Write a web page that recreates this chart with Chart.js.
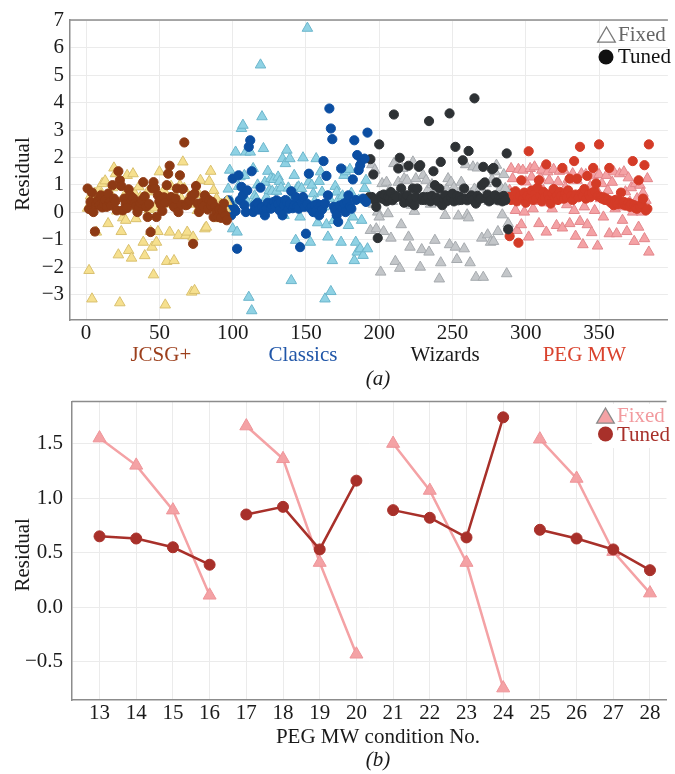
<!DOCTYPE html>
<html>
<head>
<meta charset="utf-8">
<script src="https://cdn.jsdelivr.net/npm/chart.js@4.4.0/dist/chart.umd.min.js"></script>
<style>
    body { margin: 0; background: #fff; }
    .panel { position: absolute; left: 0; }
    #panelA { top: 0; }
    #panelB { top: 380px; }
</style>
</head>
<body>
<canvas id="panelA" class="panel" width="675" height="392"></canvas>
<canvas id="panelB" class="panel" width="675" height="394"></canvas>
<script>
(function() {
    'use strict';

    // ---- panel (a): residual per condition, four screens ----
    const screens = ['JCSG+', 'Classics', 'Wizards', 'PEG MW'];
    const screenFirst = [1, 97, 193, 289];          // first condition index of each screen
    const screenLabelAt = [51, 148, 245, 340];      // where the screen name sits on the x axis

    const jcsgTuned = [
        0.87, 0.12, 0.38, 0.72, 0.01, -0.70, 0.30, 0.44, 0.26, 0.62, 0.18, 0.32,
        0.45, 0.20, 0.68, 0.38, 0.25, 0.99, 0.50, 0.40, 0.07, 1.50, 1.17, 0.96,
        0.07, 0.50, 0.30, 0.16, 0.84, 0.62, 0.44, 0.52, 0.32, 0.22, 0.01, 0.16,
        0.35, 0.45, 1.10, 0.58, 0.20, -0.17, 0.30, -0.72, 0.88, 1.10, 0.87, -0.17,
        0.62, 0.40, 0.28, 0.05, 0.55, 0.35, 0.99, 1.41, 1.70, 0.56, 0.32, 0.20,
        0.50, 0.87, 0.01, 1.35, 0.28, 0.85, 2.55, 0.26, 0.28, 0.40, 0.44, 0.60,
        -1.15, 0.68, 0.96, 0.32, 0.01, 0.13, 0.35, 0.22, 0.62, 0.52, 0.10, 0.44,
        0.26, 0.38, -0.17, 0.20, 0.05, -0.17, 0.10, -0.20, 0.07, 0.32, -0.12, -0.29
    ];
    const jcsgFixed = [
        0.15, -2.12, 0.60, -3.16, 0.50, 0.70, -0.72, 0.30, 0.84, 0.65, 1.05, 0.25,
        1.15, 0.55, -0.41, 0.74, 0.40, 0.90, 1.62, 1.41, 0.05, -1.55, -3.30, -0.70,
        -0.20, 0.60, -0.29, 1.35, -1.39, 0.45, -1.67, 1.41, 0.70, -0.23, 0.20, 0.93,
        0.55, 0.20, -1.09, -1.58, 0.30, 0.75, 0.10, -0.70, -1.27, -2.28, 0.16, -1.09,
        -0.70, 1.48, 0.55, 0.35, 0.80, -3.38, -1.79, 0.45, -0.72, 0.95, 0.30, -1.76,
        0.60, 0.25, -0.84, 0.99, 0.50, 1.84, 0.87, -0.84, -0.72, 0.55, 0.44, -2.91,
        -0.90, -2.85, 0.30, 0.07, 0.65, 1.17, 0.20, 0.45, -0.60, -0.54, 0.35, 1.13,
        1.50, 0.13, 0.80, 0.26, 0.50, -0.23, -0.11, 0.30, 0.15, 0.01, 0.13, 0.40
    ];
    const classicsTuned = [
        0.44, 0.30, -0.11, 1.23, 0.13, 0.05, -1.33, 1.35, 0.45, 0.93, 0.62, 0.26,
        0.01, 0.80, 2.39, 2.63, 1.50, 0.01, 0.25, 0.15, 0.35, 0.10, 0.90, 0.20,
        0.04, -0.11, 0.15, 0.35, 0.32, 0.13, 0.25, 0.38, 0.20, 0.44, 0.30, 0.07,
        0.38, -0.11, 0.26, 0.45, 0.38, 0.13, 0.30, 0.77, 0.15, 0.26, 0.56, 0.20,
        0.13, -1.27, 0.38, 0.56, 0.20, -0.78, 0.30, 1.41, 0.15, 0.20, 0.01, 0.26,
        0.07, 0.30, -0.11, 0.26, 0.10, 1.87, 0.32, 1.33, 0.62, 3.79, 3.06, 2.67,
        0.20, 0.07, -0.11, -0.35, 0.25, 1.60, 0.13, 0.32, 0.01, 0.38, 0.62, 0.20,
        0.13, 1.20, 2.63, 0.45, 2.09, 1.54, 1.72, 1.90, 0.50, 1.96, 0.38, 2.91
    ];
    const classicsFixed = [
        0.85, 1.54, 0.40, -0.60, 0.20, 2.20, -0.72, 0.95, 1.30, 3.06, 3.18, 1.35,
        2.20, 0.38, -3.10, 2.20, -3.59, 1.60, 0.60, 0.50, 1.00, 0.30, 5.38, 3.49,
        2.33, 1.10, 0.55, 1.50, 0.80, 1.23, 0.77, 1.20, 0.40, 0.77, 1.29, 1.13,
        0.89, 1.96, -0.11, 1.78, 2.27, 0.89, 1.96, -2.49, 0.60, 1.35, -1.02, 0.89,
        0.93, -0.17, 0.87, 1.99, 0.50, 0.30, 6.72, 1.11, -1.09, 0.99, 0.68, 0.40,
        1.96, -0.38, 1.13, 1.48, 0.74, 0.20, -3.16, -0.45, -0.90, 0.50, -2.89, -1.76,
        -0.30, 0.95, 0.74, 0.45, 0.15, -1.09, 0.60, 1.35, 1.48, 0.35, -0.48, 1.57,
        0.70, -0.17, -1.76, -1.09, -1.45, 0.45, -1.33, -0.29, -1.57, 0.87, 1.17, -1.33
    ];
    const wizardsTuned = [
        0.55, 1.94, 0.56, 1.38, 0.45, 0.20, -0.94, 2.48, 0.60, 0.50, 0.65, 0.62,
        0.40, 0.56, 0.50, 0.74, 0.44, 3.57, 0.60, 0.56, 1.60, 1.99, 0.87, 0.56,
        0.35, 0.50, 0.62, 1.70, 0.38, 0.50, 0.87, 0.26, 0.56, 0.87, 1.66, 1.72,
        0.45, 0.56, 0.45, 0.50, 0.56, 3.33, 0.40, 0.60, 1.50, 0.99, 0.53, 0.40,
        0.87, 1.84, 0.26, 0.50, 0.62, 0.40, 0.45, 3.61, 0.55, 0.68, 0.40, 2.39,
        0.60, 0.44, 0.56, 0.45, 1.90, 0.87, 0.50, 0.44, 2.24, 0.55, 0.62, 0.45,
        4.16, 0.32, 0.60, 0.50, 0.50, 0.99, 1.66, 1.09, 0.50, 0.65, 0.40, 0.45,
        1.57, 1.62, 0.62, 1.09, 0.44, 0.55, 0.50, 0.40, 0.60, 0.44, 2.15, -0.62
    ];
    const wizardsFixed = [
        0.60, -0.66, 1.74, 0.30, 1.54, -0.60, 0.01, -0.17, -2.18, 1.05, -0.70, 0.50,
        1.10, -0.05, 0.80, -0.94, 0.40, 1.78, -1.79, 0.60, 1.10, -2.04, -0.45, 1.60,
        1.23, 0.40, 1.17, -0.90, -1.27, 0.26, 1.84, 0.04, 1.23, 0.70, 0.45, -2.00,
        -1.36, 1.35, 0.50, 1.17, 0.80, -1.45, 0.30, 1.01, 0.60, -1.02, 0.90, 0.55,
        -2.43, -1.84, 0.70, 0.40, -0.11, 0.85, 1.23, -1.18, 1.10, 0.60, 0.90, -1.27,
        -1.72, -0.13, 0.75, 1.10, 0.50, -1.33, 1.74, -0.09, -0.20, -1.84, 0.70, 1.66,
        0.85, -2.37, 1.62, 0.50, 0.90, -0.94, -2.37, 0.65, 1.05, -0.82, 0.40, -1.09,
        1.20, -1.06, 1.48, 1.72, -0.70, 0.60, 0.90, -0.09, 1.38, 0.87, -2.24, -0.41
    ];
    const pegTuned = [
        -0.87, 0.45, 0.70, 0.55, 0.77, 0.40, -1.11, 0.60, 1.17, 0.50, 0.72, 0.35,
        0.60, 2.23, 0.55, 0.80, 0.45, 0.65, 0.50, 0.90, 1.17, 0.60, 0.40, 0.75,
        0.55, 1.75, 0.65, 0.50, 0.32, 0.70, 0.85, 0.55, 0.60, 0.45, 0.75, 0.60,
        1.62, 0.50, 0.70, 0.55, 0.80, 1.23, 0.60, 0.45, 1.87, 0.65, 1.23, 0.55,
        2.39, 0.70, 0.60, 0.85, 0.50, 1.33, 0.65, 0.55, 0.70, 1.62, 0.77, 1.05,
        0.60, 2.48, 0.56, 0.50, 0.55, 0.45, 0.50, 0.44, 1.62, 0.35, 0.40, 0.26,
        0.45, 0.32, 0.30, 0.40, 0.72, 0.30, 0.38, 0.25, 0.26, 0.35, 0.20, 0.30,
        1.87, 0.26, 0.15, 0.13, 1.17, 0.20, 0.30, 0.50, 1.72, 0.07, 0.13, 2.48
    ];
    const pegFixed = [
        0.80, 1.60, 1.23, 0.45, 0.07, -0.66, 1.57, 0.60, -0.45, 1.54, 0.01, 1.11,
        0.55, -0.90, 1.60, 1.29, 0.13, 1.66, 0.70, 0.40, -0.41, 1.26, 1.54, 0.80,
        0.35, -0.72, 1.48, 1.17, 0.55, 0.13, 1.57, 0.75, -0.48, 1.11, 1.50, 0.45,
        -0.57, 1.54, 0.90, 0.28, 1.21, -0.41, 0.60, 1.41, 0.07, -0.87, 1.17, 0.62,
        -0.33, 1.41, -1.18, 0.20, 1.38, -0.45, 0.70, 0.95, -0.74, 1.33, 0.07, 0.85,
        -1.23, 1.38, 0.50, 1.05, -0.17, 0.60, 1.35, 0.80, -0.78, 0.40, 1.10, 1.48,
        0.13, -0.78, 0.55, 1.41, 0.20, -0.29, 1.48, 0.75, -0.70, 1.26, 0.38, 0.90,
        0.01, -1.06, 1.05, 0.50, -0.54, 0.99, 0.01, 0.70, -0.96, 0.44, 1.23, -1.45
    ];

    const xTicksA = [0, 50, 100, 150, 200, 250, 300, 350];
    const yTicksA = [-3, -2, -1, 0, 1, 2, 3, 4, 5, 6, 7];

    // ---- panel (b): PEG MW conditions 13-28 ----
    const pegCondition = [13, 14, 15, 16, 17, 18, 19, 20, 21, 22, 23, 24, 25, 26, 27, 28];
    const pegFixedRes = [1.55, 1.30, 0.89, 0.11, 1.66, 1.36, 0.41, -0.43, 1.50, 1.07, 0.41, -0.74, 1.54, 1.18, 0.51, 0.13];
    const pegTunedRes = [0.65, 0.63, 0.55, 0.39, 0.85, 0.92, 0.53, 1.16, 0.89, 0.82, 0.64, 1.74, 0.71, 0.63, 0.53, 0.34];
    const runLength = 4;
    const yTicksB = [-0.5, 0, 0.5, 1.0, 1.5];

    // Colours
    const tunedColors = ['#8E3A14', '#0B4EA2', '#2E3235', '#D43B27'];
    const fixedFill = ['#F6E08F', '#8FD2E4', '#C3C6C9', '#F4A2A5'];
    const fixedEdge = ['#D9C06E', '#6CB6CC', '#A6AAAE', '#E3868B'];
    const labelColors = ['#9C3F1C', '#2056A8', '#1A1A1A', '#D9432E'];
    const axisGray = '#8c8c8c';
    const gridGray = '#ebebeb';
    const serif = '"Liberation Serif", "Times New Roman", serif';

    Chart.defaults.font.family = serif;
    Chart.defaults.font.size = 21;
    Chart.defaults.color = '#1a1a1a';

    function minusSign(text) {
        return String(text).replace('-', '\u2212');
    }

    function toPoints(values, first) {
        return values.map((v, k) => ({ x: first + k, y: v }));
    }

    function tunedSet(values, g) {
        return {
            label: screens[g] + ' Tuned',
            data: toPoints(values, screenFirst[g]),
            pointStyle: 'circle',
            pointRadius: 4.6,
            pointBackgroundColor: tunedColors[g],
            pointBorderColor: tunedColors[g],
            pointBorderWidth: 1
        };
    }

    function fixedSet(values, g) {
        return {
            label: screens[g] + ' Fixed',
            data: toPoints(values, screenFirst[g]),
            pointStyle: 'triangle',
            pointRadius: 6.1,
            pointBackgroundColor: fixedFill[g],
            pointBorderColor: fixedEdge[g],
            pointBorderWidth: 1
        };
    }

    function drawTopBorder(chart) {
        const { ctx, chartArea } = chart;
        ctx.save();
        ctx.strokeStyle = axisGray;
        ctx.lineWidth = 1.5;
        ctx.beginPath();
        ctx.moveTo(chartArea.left, chartArea.top);
        ctx.lineTo(chartArea.right, chartArea.top);
        ctx.stroke();
        ctx.restore();
    }

    function drawText(ctx, text, x, y, color, font, align) {
        ctx.save();
        ctx.font = font || ('21px ' + serif);
        ctx.fillStyle = color;
        ctx.textAlign = align || 'center';
        ctx.textBaseline = 'middle';
        ctx.fillText(text, x, y);
        ctx.restore();
    }

    function drawYTitle(chart, text) {
        const { ctx, chartArea } = chart;
        ctx.save();
        ctx.translate(23, (chartArea.top + chartArea.bottom) / 2 + 4);
        ctx.rotate(-Math.PI / 2);
        ctx.font = '21px ' + serif;
        ctx.fillStyle = '#1a1a1a';
        ctx.textAlign = 'center';
        ctx.textBaseline = 'middle';
        ctx.fillText(text, 0, 0);
        ctx.restore();
    }

    function triangleMark(ctx, cx, cy, half, fill, stroke) {
        ctx.save();
        ctx.beginPath();
        ctx.moveTo(cx, cy - half);
        ctx.lineTo(cx + half * 1.1, cy + half * 0.9);
        ctx.lineTo(cx - half * 1.1, cy + half * 0.9);
        ctx.closePath();
        if (fill) { ctx.fillStyle = fill; ctx.fill(); }
        ctx.strokeStyle = stroke;
        ctx.lineWidth = 1.3;
        ctx.stroke();
        ctx.restore();
    }

    function circleMark(ctx, cx, cy, r, fill) {
        ctx.save();
        ctx.beginPath();
        ctx.arc(cx, cy, r, 0, Math.PI * 2);
        ctx.fillStyle = fill;
        ctx.fill();
        ctx.restore();
    }

    // Decorations for panel (a)
    const decorA = {
        id: 'decorA',
        afterDraw(chart) {
            const ctx = chart.ctx;
            const xs = chart.scales.x;
            drawTopBorder(chart);
            drawYTitle(chart, 'Residual');
            screens.forEach((name, g) => {
                drawText(ctx, name, xs.getPixelForValue(screenLabelAt[g]), 355, labelColors[g]);
            });
            drawText(ctx, '(a)', 378, 379, '#1a1a1a', 'italic 21px ' + serif);
            // legend
            triangleMark(ctx, 606.5, 35, 8, null, '#7a7a7a');
            drawText(ctx, 'Fixed', 618, 35, '#666666', null, 'left');
            circleMark(ctx, 606, 57, 7.5, '#111111');
            drawText(ctx, 'Tuned', 618, 57, '#111111', null, 'left');
        }
    };

    // Decorations for panel (b)
    const decorB = {
        id: 'decorB',
        afterDraw(chart) {
            const ctx = chart.ctx;
            drawTopBorder(chart);
            drawYTitle(chart, 'Residual');
            drawText(ctx, 'PEG MW condition No.', 378, 357, '#1a1a1a');
            drawText(ctx, '(b)', 378, 380, '#1a1a1a', 'italic 21px ' + serif);
            // legend with white box
            ctx.save();
            ctx.fillStyle = '#ffffff';
            ctx.fillRect(592, 24, 83, 44);
            ctx.restore();
            triangleMark(ctx, 605.5, 36, 8, '#F4A2A5', '#8a8a8a');
            drawText(ctx, 'Fixed', 617, 36, '#F29A9E', null, 'left');
            circleMark(ctx, 605.5, 54, 7.5, '#A8302A');
            drawText(ctx, 'Tuned', 617, 55, '#A8302A', null, 'left');
        }
    };

    // Dataset order: first in list is drawn on top
    const datasetsA = [
        tunedSet(jcsgTuned, 0),
        fixedSet(jcsgFixed, 0),
        tunedSet(classicsTuned, 1),
        fixedSet(classicsFixed, 1),
        tunedSet(wizardsTuned, 2),
        fixedSet(wizardsFixed, 2),
        tunedSet(pegTuned, 3),
        fixedSet(pegFixed, 3)
    ];

    new Chart(document.getElementById('panelA'), {
        type: 'scatter',
        data: { datasets: datasetsA },
        options: {
            responsive: false,
            animation: false,
            layout: { padding: { top: 20, right: 0, bottom: 0, left: 0 } },
            plugins: {
                legend: { display: false },
                tooltip: { enabled: false }
            },
            scales: {
                x: {
                    type: 'linear',
                    min: -11,
                    max: 397,
                    afterBuildTicks: scale => { scale.ticks = xTicksA.map(v => ({ value: v })); },
                    afterFit: scale => { scale.height = 72; },
                    grid: { color: gridGray, drawTicks: false },
                    border: { color: axisGray, width: 1.5 },
                    ticks: { padding: 1, maxRotation: 0, color: '#1a1a1a' }
                },
                y: {
                    min: -3.93,
                    max: 7.02,
                    afterBuildTicks: scale => { scale.ticks = yTicksA.map(v => ({ value: v })); },
                    afterFit: scale => { scale.width = 70; },
                    grid: { color: gridGray, drawTicks: false },
                    border: { color: axisGray, width: 1.5 },
                    ticks: {
                        padding: 6,
                        color: '#1a1a1a',
                        callback: value => minusSign(value)
                    }
                }
            }
        },
        plugins: [decorA]
    });

    // Panel (b): break the lines after every run of four conditions
    function withBreaks(values) {
        const pts = [];
        values.forEach((v, k) => {
            if (k > 0 && k % runLength === 0) {
                pts.push({ x: pegCondition[k] - 0.5, y: null });
            }
            pts.push({ x: pegCondition[k], y: v });
        });
        return pts;
    }

    new Chart(document.getElementById('panelB'), {
        type: 'line',
        data: {
            datasets: [
                {
                    label: 'Tuned',
                    data: withBreaks(pegTunedRes),
                    borderColor: '#A8302A',
                    backgroundColor: '#A8302A',
                    borderWidth: 2.5,
                    pointStyle: 'circle',
                    pointRadius: 5.5,
                    pointBorderWidth: 1,
                    spanGaps: false
                },
                {
                    label: 'Fixed',
                    data: withBreaks(pegFixedRes),
                    borderColor: '#F4A2A5',
                    backgroundColor: '#F4A2A5',
                    borderWidth: 2.5,
                    pointStyle: 'triangle',
                    pointRadius: 7.5,
                    pointBorderColor: '#EE9499',
                    pointBorderWidth: 1,
                    spanGaps: false
                }
            ]
        },
        options: {
            responsive: false,
            animation: false,
            layout: { padding: { top: 20, right: 0, bottom: 0, left: 0 } },
            plugins: {
                legend: { display: false },
                tooltip: { enabled: false }
            },
            scales: {
                x: {
                    type: 'linear',
                    min: 12.25,
                    max: 28.45,
                    afterBuildTicks: scale => { scale.ticks = pegCondition.map(v => ({ value: v })); },
                    afterFit: scale => { scale.height = 74; },
                    grid: { color: gridGray, drawTicks: false },
                    border: { color: axisGray, width: 1.5 },
                    ticks: { padding: 1, maxRotation: 0, color: '#1a1a1a' }
                },
                y: {
                    min: -0.849,
                    max: 1.884,
                    afterBuildTicks: scale => { scale.ticks = yTicksB.map(v => ({ value: v })); },
                    afterFit: scale => { scale.width = 72; },
                    grid: { color: gridGray, drawTicks: false },
                    border: { color: axisGray, width: 1.5 },
                    ticks: {
                        padding: 9,
                        color: '#1a1a1a',
                        callback: value => minusSign(Number(value).toFixed(1))
                    }
                }
            }
        },
        plugins: [decorB]
    });
})();
</script>
</body>
</html>
